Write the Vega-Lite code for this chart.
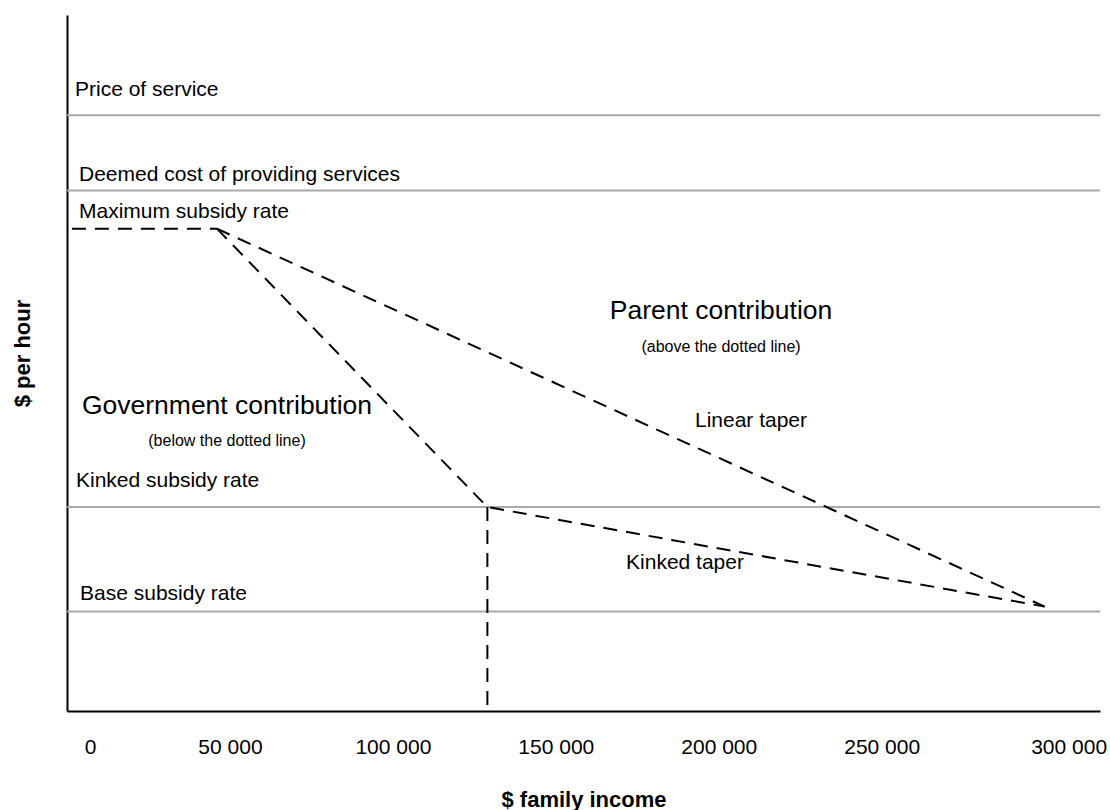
{
  "$schema": "https://vega.github.io/schema/vega-lite/v6.json",
  "width": 1033,
  "height": 696,
  "autosize": {"type": "none"},
  "padding": {"left": 67, "top": 15, "right": 10, "bottom": 99},
  "background": "white",
  "config": {
    "view": {"stroke": null},
    "font": "Liberation Sans",
    "text": {"font": "Liberation Sans", "color": "#000000"},
    "axis": {"grid": false, "ticks": false, "tickSize": 0, "domainColor": "#000000", "domainWidth": 2, "titleFont": "Liberation Sans", "labelFont": "Liberation Sans", "titleColor": "#000000", "labelColor": "#000000"}
  },
  "datasets": {
    "refs": [
      {"name": "Price of service", "rate": 85.6},
      {"name": "Deemed cost of providing services", "rate": 74.8},
      {"name": "Kinked subsidy rate", "rate": 29.3},
      {"name": "Base subsidy rate", "rate": 14.3}
    ],
    "tapers": [
      {"series": "maximum", "step": 1, "income": 1500, "rate": 69.3},
      {"series": "maximum", "step": 2, "income": 46000, "rate": 69.3},
      {"series": "linear", "step": 1, "income": 46000, "rate": 69.3},
      {"series": "linear", "step": 2, "income": 300000, "rate": 15},
      {"series": "kinked", "step": 1, "income": 46000, "rate": 69.3},
      {"series": "kinked", "step": 2, "income": 129000, "rate": 29.3},
      {"series": "kinked", "step": 3, "income": 300000, "rate": 15},
      {"series": "cut-off", "step": 1, "income": 129000, "rate": 29.3},
      {"series": "cut-off", "step": 2, "income": 129000, "rate": 0}
    ],
    "notes": [
      {"role": "rate label", "text": "Price of service", "income": 2455, "rate": 89.2},
      {"role": "rate label", "text": "Deemed cost of providing services", "income": 3680, "rate": 77.0},
      {"role": "rate label", "text": "Maximum subsidy rate", "income": 3680, "rate": 71.7},
      {"role": "rate label", "text": "Kinked subsidy rate", "income": 2760, "rate": 33.0},
      {"role": "rate label", "text": "Base subsidy rate", "income": 3990, "rate": 16.8},
      {"role": "heading", "text": "Parent contribution", "income": 200700, "rate": 57.5},
      {"role": "heading", "text": "Government contribution", "income": 49100, "rate": 43.8},
      {"role": "note", "text": "(above the dotted line)", "income": 200700, "rate": 52.3},
      {"role": "note", "text": "(below the dotted line)", "income": 49100, "rate": 38.8},
      {"role": "taper", "text": "Linear taper", "income": 209900, "rate": 41.7},
      {"role": "taper", "text": "Kinked taper", "income": 189650, "rate": 21.3}
    ]
  },
  "layer": [
    {
      "data": {"name": "refs"},
      "mark": {"type": "rule", "color": "#a9a9a9", "strokeWidth": 2},
      "encoding": {
        "y": {"field": "rate", "type": "quantitative", "title": "$ per hour", "scale": {"domain": [0, 100], "nice": false, "zero": false}}
      }
    },
    {
      "data": {"name": "tapers"},
      "mark": {"type": "line", "color": "#000000", "strokeWidth": 2, "strokeDash": [14, 9]},
      "encoding": {
        "x": {
          "field": "income", "type": "quantitative", "title": "$ family income",
          "scale": {"domain": [0, 317000], "nice": false, "zero": false},
          "axis": {
            "values": [0, 50000, 100000, 150000, 200000, 250000, 300000],
            "labelExpr": "replace(format(datum.value, ','), ',', ' ')",
            "labelFontSize": 21,
            "labelBaseline": "middle",
            "labelPadding": 36,
            "labelFlush": false,
            "labelOverlap": false,
            "labelOffset": {"condition": [{"test": "datum.value == 0", "value": 23}, {"test": "datum.value == 300000", "value": 24}], "value": 0},
            "titleFontSize": 22,
            "titleFontWeight": "bold",
            "titleBaseline": "middle",
            "titleY": 88
          }
        },
        "y": {
          "field": "rate", "type": "quantitative", "title": "$ per hour",
          "scale": {"domain": [0, 100], "nice": false, "zero": false},
          "axis": {
            "labels": false,
            "titleFontSize": 22,
            "titleFontWeight": "bold",
            "titleBaseline": "middle",
            "titleAngle": -90,
            "titleX": -45,
            "titleY": 338
          }
        },
        "detail": {"field": "series"},
        "order": {"field": "step", "type": "quantitative"}
      }
    },
    {
      "data": {"name": "notes"},
      "transform": [{"filter": "datum.role == 'rate label'"}],
      "mark": {"type": "text", "align": "left", "baseline": "middle", "fontSize": 21},
      "encoding": {
        "x": {"field": "income", "type": "quantitative", "title": "$ family income"},
        "y": {"field": "rate", "type": "quantitative", "title": "$ per hour"},
        "text": {"field": "text"}
      }
    },
    {
      "data": {"name": "notes"},
      "transform": [{"filter": "datum.role == 'heading'"}],
      "mark": {"type": "text", "align": "center", "baseline": "middle", "fontSize": 26.5},
      "encoding": {
        "x": {"field": "income", "type": "quantitative", "title": "$ family income"},
        "y": {"field": "rate", "type": "quantitative", "title": "$ per hour"},
        "text": {"field": "text"}
      }
    },
    {
      "data": {"name": "notes"},
      "transform": [{"filter": "datum.role == 'note'"}],
      "mark": {"type": "text", "align": "center", "baseline": "middle", "fontSize": 16},
      "encoding": {
        "x": {"field": "income", "type": "quantitative", "title": "$ family income"},
        "y": {"field": "rate", "type": "quantitative", "title": "$ per hour"},
        "text": {"field": "text"}
      }
    },
    {
      "data": {"name": "notes"},
      "transform": [{"filter": "datum.role == 'taper'"}],
      "mark": {"type": "text", "align": "center", "baseline": "middle", "fontSize": 21},
      "encoding": {
        "x": {"field": "income", "type": "quantitative", "title": "$ family income"},
        "y": {"field": "rate", "type": "quantitative", "title": "$ per hour"},
        "text": {"field": "text"}
      }
    }
  ]
}
